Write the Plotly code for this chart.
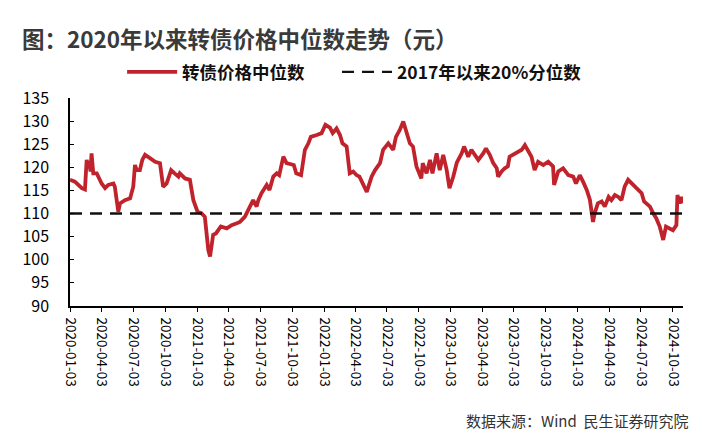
import plotly.graph_objects as go

dates = [
    "2020-01-03", "2020-01-17", "2020-02-06", "2020-02-15", "2020-02-20", "2020-02-25", "2020-02-27",
    "2020-03-02", "2020-03-05", "2020-03-10", "2020-03-20", "2020-04-03", "2020-04-13", "2020-04-22",
    "2020-05-07", "2020-05-11", "2020-05-21", "2020-05-26", "2020-06-09", "2020-06-24", "2020-07-03",
    "2020-07-08", "2020-07-13", "2020-07-22", "2020-07-29", "2020-08-06", "2020-08-20", "2020-09-04",
    "2020-09-18", "2020-09-27", "2020-10-07", "2020-10-20", "2020-10-30", "2020-11-10", "2020-11-14",
    "2020-11-29", "2020-12-13", "2020-12-23", "2021-01-04", "2021-01-15", "2021-01-25", "2021-02-04",
    "2021-02-09", "2021-02-18", "2021-02-26", "2021-03-12", "2021-03-29", "2021-04-12", "2021-04-27",
    "2021-05-06", "2021-05-20", "2021-06-04", "2021-06-13", "2021-06-23", "2021-06-28", "2021-07-07",
    "2021-07-22", "2021-07-30", "2021-08-10", "2021-08-20", "2021-08-27", "2021-09-08", "2021-09-17",
    "2021-10-08", "2021-10-15", "2021-10-29", "2021-11-09", "2021-11-19", "2021-11-26", "2021-12-13",
    "2021-12-27", "2022-01-07", "2022-01-20", "2022-01-28", "2022-02-08", "2022-02-18", "2022-02-25",
    "2022-03-09", "2022-03-18", "2022-03-28", "2022-04-07", "2022-04-15", "2022-04-26", "2022-05-06",
    "2022-05-20", "2022-05-30", "2022-06-13", "2022-06-22", "2022-07-07", "2022-07-21", "2022-07-29",
    "2022-08-09", "2022-08-19", "2022-08-29", "2022-09-07", "2022-09-16", "2022-09-26", "2022-10-10",
    "2022-10-14", "2022-10-25", "2022-11-04", "2022-11-11", "2022-11-23", "2022-12-02", "2022-12-12",
    "2022-12-22", "2022-12-30", "2023-01-10", "2023-01-20", "2023-02-03", "2023-02-10", "2023-02-22",
    "2023-03-03", "2023-03-13", "2023-03-23", "2023-04-06", "2023-04-14", "2023-04-25", "2023-05-05",
    "2023-05-15", "2023-05-19", "2023-05-29", "2023-06-07", "2023-06-16", "2023-06-21", "2023-06-30",
    "2023-07-14", "2023-07-26", "2023-08-04", "2023-08-14", "2023-08-23", "2023-09-01", "2023-09-11",
    "2023-09-26", "2023-10-10", "2023-10-24", "2023-10-27", "2023-11-08", "2023-11-22", "2023-12-07",
    "2023-12-21", "2023-12-29", "2024-01-09", "2024-01-19", "2024-01-29", "2024-02-07", "2024-02-12",
    "2024-02-16", "2024-02-21", "2024-03-01", "2024-03-12", "2024-03-21", "2024-04-01", "2024-04-09",
    "2024-04-19", "2024-04-29", "2024-05-08", "2024-05-17", "2024-05-27", "2024-06-06", "2024-06-20",
    "2024-07-05", "2024-07-12", "2024-07-29", "2024-08-07", "2024-08-16", "2024-08-26", "2024-09-05",
    "2024-09-13", "2024-09-24", "2024-10-03", "2024-10-13", "2024-10-16", "2024-10-22", "2024-10-27",
    "2024-10-31",
]

median_price = [
    117.3, 116.9, 115.5, 115.2, 121.6, 119.8, 121.4,
    119.1, 123.0, 118.7, 118.7, 116.5, 115.5, 116.2,
    116.5, 115.8, 110.4, 112.2, 112.9, 113.3, 115.8,
    120.5, 119.4, 119.4, 121.6, 122.7, 122.0, 121.2,
    120.9, 115.8, 116.5, 119.4, 118.7, 118.0, 118.7,
    117.6, 117.3, 112.9, 110.4, 110.1, 109.3, 102.1,
    100.7, 105.4, 105.7, 107.2, 106.8, 107.5, 107.9,
    108.2, 109.3, 111.5, 112.9, 111.5, 112.9, 114.4,
    116.2, 115.1, 118.0, 118.7, 118.3, 122.3, 120.9,
    120.5, 118.7, 118.3, 123.8, 125.2, 126.6, 127.0,
    127.4, 129.2, 128.6, 127.4, 128.4, 127.0, 125.2,
    124.5, 118.7, 119.1, 118.3, 118.0, 116.2, 114.7,
    118.0, 119.4, 120.9, 123.8, 125.2, 123.8, 126.6,
    128.1, 129.9, 127.4, 125.2, 124.5, 120.2, 117.6,
    120.9, 118.7, 121.6, 118.7, 123.0, 119.4, 122.7,
    119.4, 115.5, 118.0, 121.0, 123.0, 124.5, 122.3,
    123.8, 122.7, 121.6, 123.0, 124.1, 122.7, 120.9,
    119.8, 118.0, 119.1, 119.8, 120.2, 122.3, 122.7,
    123.4, 123.8, 124.8, 123.4, 122.3, 119.4, 121.2,
    120.5, 121.2, 120.2, 116.2, 119.1, 119.8, 118.3,
    118.0, 116.5, 118.3, 116.8, 115.1, 113.0, 110.1,
    108.2, 110.1, 112.2, 112.6, 111.5, 113.6, 112.9,
    114.0, 113.6, 112.9, 115.8, 117.3, 116.5, 115.5,
    114.4, 112.6, 111.5, 110.1, 109.0, 107.2, 104.3,
    107.2, 106.8, 106.4, 107.5, 114.0, 112.2, 113.6,
    112.2,
]

pct20_dates = ["2020-01-03", "2024-11-01"]
pct20_values = [110, 110]

y_ticks = [90, 95, 100, 105, 110, 115, 120, 125, 130, 135]
x_ticks = [
    "2020-01-03", "2020-04-03", "2020-07-03", "2020-10-03",
    "2021-01-03", "2021-04-03", "2021-07-03", "2021-10-03",
    "2022-01-03", "2022-04-03", "2022-07-03", "2022-10-03",
    "2023-01-03", "2023-04-03", "2023-07-03", "2023-10-03",
    "2024-01-03", "2024-04-03", "2024-07-03", "2024-10-03",
]

FONT = "Noto Sans CJK SC"
LEG_FONT = dict(family=FONT, size=17.5, color="#111111", weight="bold")

fig = go.Figure()
fig.add_trace(go.Scatter(
    x=dates, y=median_price, mode="lines", name="转债价格中位数",
    line=dict(color="#C0232B", width=3.8), legend="legend",
))
fig.add_trace(go.Scatter(
    x=pct20_dates, y=pct20_values, mode="lines", name="2017年以来20%分位数",
    line=dict(color="#111111", width=2.4, dash="12px,8px"), legend="legend2",
))

fig.update_layout(
    width=725, height=438,
    margin=dict(l=70, r=42, t=98, b=132),
    paper_bgcolor="white", plot_bgcolor="white",
    font=dict(family=FONT, color="#000000"),
    title=dict(
        text="<b>图：2020年以来转债价格中位数走势（元）</b>",
        x=22 / 725, xanchor="left", y=1 - 40 / 438, yanchor="middle",
        font=dict(family=FONT, size=22.5, color="#3a3a3a"),
    ),
    legend=dict(
        orientation="h", x=0.085, xanchor="left", y=1.125, yanchor="middle",
        font=LEG_FONT, bgcolor="rgba(0,0,0,0)", itemwidth=50,
    ),
    legend2=dict(
        orientation="h", x=(337 - 70) / 613, xanchor="left", y=1.125, yanchor="middle",
        font=LEG_FONT, bgcolor="rgba(0,0,0,0)", itemwidth=50,
    ),
    showlegend=True,
)

fig.update_xaxes(
    type="date", range=["2020-01-03", "2024-11-01"],
    tickmode="array", tickvals=x_ticks, ticktext=x_ticks,
    tickangle=90, tickfont=dict(family=FONT, size=13.5, color="#000000"),
    ticklabelstandoff=3,
    showgrid=False, zeroline=False,
    showline=True, linecolor="#000000", linewidth=1.5,
    ticks="outside", ticklen=4, tickwidth=1.3, tickcolor="#000000",
)
fig.update_yaxes(
    range=[90, 135], tickmode="array", tickvals=y_ticks,
    tickfont=dict(family=FONT, size=16, color="#000000"),
    ticklabelstandoff=16,
    showgrid=False, zeroline=False,
    showline=True, linecolor="#000000", linewidth=1.5,
    ticks="inside", ticklen=4, tickwidth=1.3, tickcolor="#000000",
)

fig.add_annotation(
    text="数据来源：Wind  民生证券研究院", xref="paper", yref="paper",
    x=(690 - 70) / 613, xanchor="right", y=-(420 - 306) / 208, yanchor="middle",
    showarrow=False, font=dict(family=FONT, size=15, color="#333333"),
)

fig.write_html("out.html")
